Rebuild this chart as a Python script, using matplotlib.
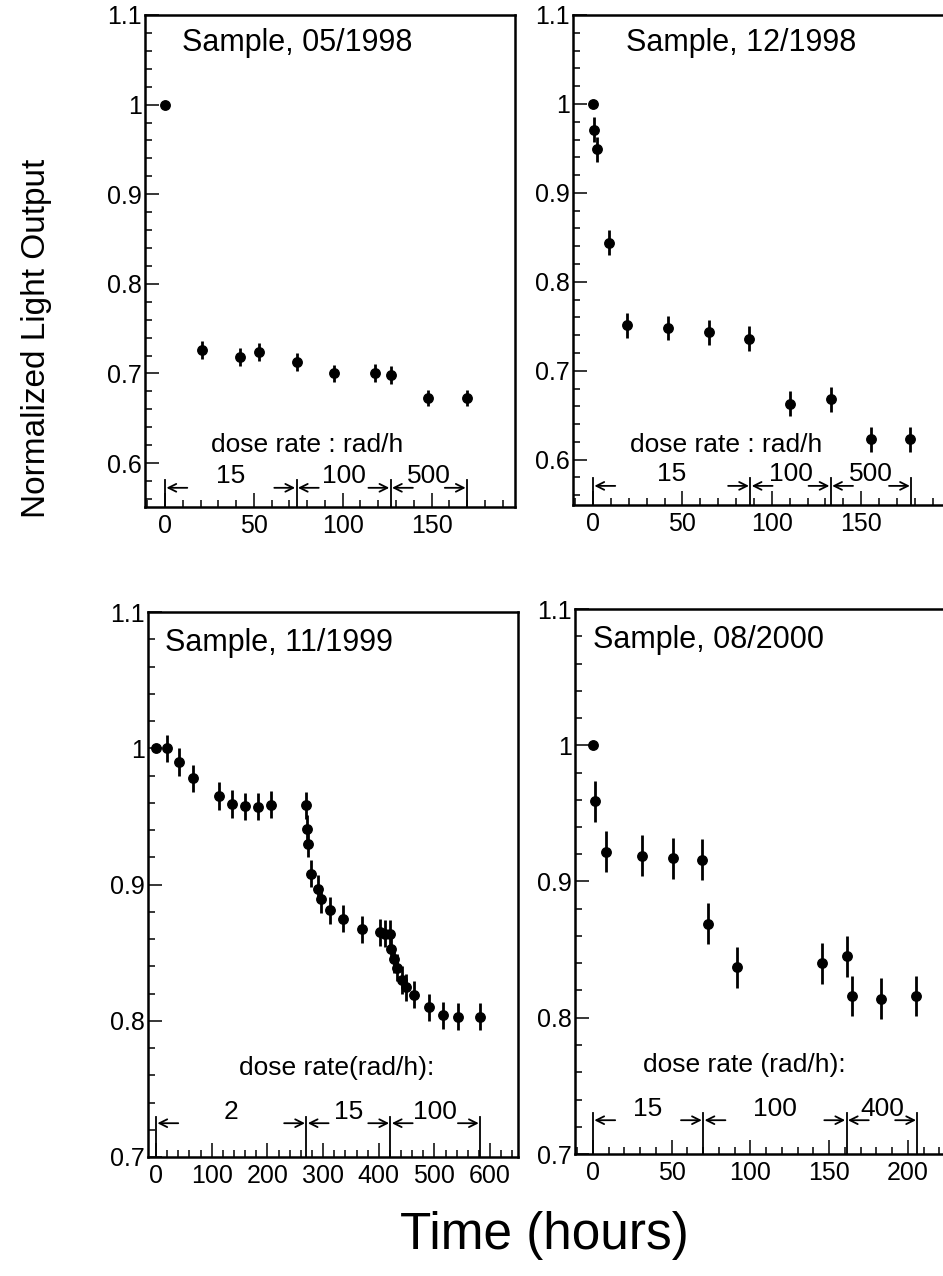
import numpy as np
import matplotlib
matplotlib.use('Agg')
import matplotlib.pyplot as plt
import matplotlib.transforms as mtransforms
from matplotlib.ticker import MultipleLocator, FuncFormatter

plt.rcParams['font.family'] = ['Liberation Sans', 'DejaVu Sans']

# ---- data ----
# Sample 05/1998
t_0598 = [0, 21, 42, 53, 74, 95, 118, 127, 148, 170]
y_0598 = [1.0, 0.726, 0.718, 0.724, 0.713, 0.700, 0.701, 0.698, 0.673, 0.673]
e_0598 = [0.0, 0.010, 0.010, 0.010, 0.010, 0.010, 0.010, 0.010, 0.009, 0.009]
dose_edges_0598 = [0, 74, 127, 170]
dose_rates_0598 = ['15', '100', '500']

# Sample 12/1998
t_1298 = [0, 0.5, 2.5, 9, 19, 42, 65, 87.5, 110, 133, 155.5, 177.5]
y_1298 = [1.0, 0.971, 0.949, 0.844, 0.751, 0.748, 0.743, 0.736, 0.663, 0.668, 0.623, 0.623]
e_1298 = [0.0, 0.014, 0.014, 0.014, 0.014, 0.014, 0.014, 0.014, 0.014, 0.014, 0.014, 0.014]
dose_edges_1298 = [0, 88, 133, 178]
dose_rates_1298 = ['15', '100', '500']

# Sample 11/1999
t_1199 = [0, 20, 42, 67, 113, 137, 160, 184, 207, 269, 271, 273, 278, 290, 296,
          312, 336, 370, 402, 411, 421, 422, 428, 432, 442, 448, 464, 490, 516, 543, 582]
y_1199 = [1.0, 1.0, 0.990, 0.978, 0.965, 0.959, 0.9575, 0.957, 0.9585, 0.958, 0.941,
          0.930, 0.908, 0.897, 0.889, 0.881, 0.875, 0.867, 0.865, 0.864, 0.864, 0.853,
          0.845, 0.839, 0.830, 0.8245, 0.819, 0.810, 0.804, 0.803, 0.803]
e_1199 = [0.0] + [0.010] * 30
dose_edges_1199 = [0, 270, 421, 582]
dose_rates_1199 = ['2', '15', '100']

# Sample 08/2000
t_0800 = [0, 1.5, 8, 31, 51, 69, 73, 91.5, 145.5, 161, 164.5, 183, 205]
y_0800 = [1.0, 0.959, 0.922, 0.919, 0.917, 0.916, 0.869, 0.837, 0.840, 0.845, 0.816, 0.814, 0.816]
e_0800 = [0.0] + [0.015] * 12
dose_edges_0800 = [0, 70, 161, 206]
dose_rates_0800 = ['15', '100', '400']

W, H = 943, 1276
fig = plt.figure(figsize=(W / 100, H / 100), dpi=100)


def rect(left, top, right, bottom):
    return [left / W, 1 - bottom / H, (right - left) / W, (bottom - top) / H]


def panel(box, t, y, e, edges, rates, title, title_x, dose_label, dose_x, dose_y,
          xlim, ylim, xmajor, xminor, seg_h, arr_y, lab_y):
    ax = fig.add_axes(rect(*box))
    ax.errorbar(t, y, yerr=e, fmt='o', color='k', ms=6.8, elinewidth=2.0, capsize=0)
    ax.set_xlim(*xlim)
    ax.set_ylim(*ylim)
    ax.xaxis.set_major_locator(MultipleLocator(xmajor))
    ax.xaxis.set_minor_locator(MultipleLocator(xminor))
    ax.yaxis.set_major_locator(MultipleLocator(0.1))
    ax.yaxis.set_minor_locator(MultipleLocator(0.02))
    ax.yaxis.set_major_formatter(FuncFormatter(lambda v, p: '%g' % round(v, 2)))
    ax.tick_params(which='both', direction='in', top=False, right=False, width=1.1,
                   labelsize=18)
    ax.tick_params(which='major', length=10)
    ax.tick_params(which='minor', length=5)
    ax.tick_params(axis='y', pad=2)
    ax.tick_params(axis='x', pad=5)
    for s in ax.spines.values():
        s.set_linewidth(1.8)

    ax.text(title_x, 0.943, title, transform=ax.transAxes, fontsize=22,
            ha='left', va='center')
    ax.text(dose_x, dose_y, dose_label, transform=ax.transAxes, fontsize=19,
            ha='center', va='center')

    trans = mtransforms.blended_transform_factory(ax.transData, ax.transAxes)
    for xe in edges:
        ax.plot([xe, xe], [0, seg_h], transform=trans, color='k', lw=1.3, clip_on=False)
    for a, b, r in zip(edges[:-1], edges[1:], rates):
        ax.annotate('', xy=(a, arr_y), xycoords=trans, xytext=(16, 0),
                    textcoords='offset points',
                    arrowprops=dict(arrowstyle='->', lw=1.3, color='k',
                                    shrinkA=0, shrinkB=1, mutation_scale=14))
        ax.annotate('', xy=(b, arr_y), xycoords=trans, xytext=(-16, 0),
                    textcoords='offset points',
                    arrowprops=dict(arrowstyle='->', lw=1.3, color='k',
                                    shrinkA=0, shrinkB=1, mutation_scale=14))
        ax.text((a + b) / 2, lab_y, r, transform=trans, fontsize=19,
                ha='center', va='center')
    return ax


panel((145, 15, 515, 507), t_0598, y_0598, e_0598, dose_edges_0598, dose_rates_0598,
      'Sample, 05/1998', 0.10, 'dose rate : rad/h', 0.438, 0.126,
      (-11.3, 197), (0.551, 1.1), 50, 10, 0.055, 0.039, 0.063)
panel((573, 15, 947, 505), t_1298, y_1298, e_1298, dose_edges_1298, dose_rates_1298,
      'Sample, 12/1998', 0.143, 'dose rate : rad/h', 0.41, 0.122,
      (-11.2, 198), (0.549, 1.1), 50, 10, 0.055, 0.039, 0.063)
panel((148, 612, 518, 1157), t_1199, y_1199, e_1199, dose_edges_1199, dose_rates_1199,
      'Sample, 11/1999', 0.046, 'dose rate(rad/h):', 0.51, 0.163,
      (-14.4, 650), (0.7, 1.1), 100, 20, 0.073, 0.062, 0.082)
panel((575, 609, 947, 1154), t_0800, y_0800, e_0800, dose_edges_0800, dose_rates_0800,
      'Sample, 08/2000', 0.049, 'dose rate (rad/h):', 0.454, 0.163,
      (-11.4, 224.8), (0.7, 1.1), 50, 10, 0.075, 0.062, 0.082)

fig.text(37 / W, 1 - 338 / H, 'Normalized Light Output', rotation=90,
         fontsize=24, ha='center', va='center')
fig.text(544 / W, 1 - 1235 / H, 'Time (hours)', fontsize=37, ha='center', va='center')

fig.savefig('out.png', dpi=100)
